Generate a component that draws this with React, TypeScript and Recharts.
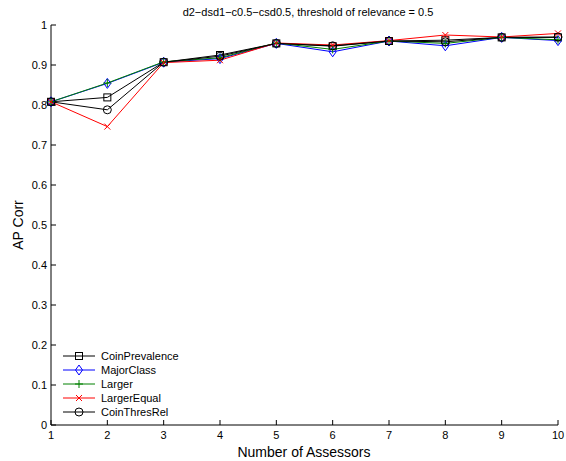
import { Line, LineChart, XAxis, YAxis } from "recharts";

const assessors = [1, 2, 3, 4, 5, 6, 7, 8, 9, 10];
const coinPrevalence = [0.808, 0.819, 0.907, 0.925, 0.954, 0.947, 0.96, 0.962, 0.969, 0.969];
const majorClass = [0.808, 0.854, 0.907, 0.916, 0.954, 0.933, 0.96, 0.948, 0.969, 0.961];
const larger = [0.808, 0.855, 0.908, 0.918, 0.955, 0.939, 0.96, 0.954, 0.969, 0.963];
const largerEqual = [0.808, 0.746, 0.906, 0.912, 0.955, 0.95, 0.961, 0.975, 0.97, 0.979];
const coinThresRel = [0.808, 0.788, 0.907, 0.922, 0.954, 0.948, 0.96, 0.958, 0.969, 0.97];

const yTicks = [0, 0.1, 0.2, 0.3, 0.4, 0.5, 0.6, 0.7, 0.8, 0.9, 1];

const series = [
  { key: "coinPrevalence", name: "CoinPrevalence", color: "#000000", shape: "square", values: coinPrevalence },
  { key: "majorClass", name: "MajorClass", color: "#0000ff", shape: "diamond", values: majorClass },
  { key: "larger", name: "Larger", color: "#008000", shape: "plus", values: larger },
  { key: "largerEqual", name: "LargerEqual", color: "#ff0000", shape: "cross", values: largerEqual },
  { key: "coinThresRel", name: "CoinThresRel", color: "#000000", shape: "circle", values: coinThresRel },
];

const data = assessors.map((x, i) => {
  const row: Record<string, number> = { x };
  series.forEach((s) => {
    row[s.key] = s.values[i];
  });
  return row;
});

const FONT = "'Liberation Sans', Arial, Helvetica, sans-serif";

function Marker({ shape, color, cx, cy }: { shape: string; color: string; cx: number; cy: number }) {
  const common = { fill: "none", stroke: color, strokeWidth: 1 };
  if (shape === "square") return <rect x={cx - 3.5} y={cy - 3.5} width={7} height={7} {...common} />;
  if (shape === "diamond")
    return <polygon points={`${cx},${cy - 5} ${cx + 3.5},${cy} ${cx},${cy + 5} ${cx - 3.5},${cy}`} {...common} />;
  if (shape === "plus")
    return <path d={`M${cx - 4},${cy}H${cx + 4}M${cx},${cy - 4}V${cy + 4}`} {...common} />;
  if (shape === "cross")
    return <path d={`M${cx - 3},${cy - 3}L${cx + 3},${cy + 3}M${cx - 3},${cy + 3}L${cx + 3},${cy - 3}`} {...common} />;
  return <circle cx={cx} cy={cy} r={4} {...common} />;
}

const bottomTick = (props: any) => (
  <g>
    <line x1={props.x} y1={props.y} x2={props.x} y2={props.y - 5} stroke="#000" />
    <text x={props.x} y={props.y + 14} textAnchor="middle" fontSize={11} fontFamily={FONT} fill="#000">
      {props.payload.value}
    </text>
  </g>
);
const topTick = (props: any) => (
  <line x1={props.x} y1={props.y} x2={props.x} y2={props.y + 5} stroke="#000" />
);
const leftTick = (props: any) => (
  <g>
    <line x1={props.x} y1={props.y} x2={props.x + 5} y2={props.y} stroke="#000" />
    <text x={props.x - 4} y={props.y + 4} textAnchor="end" fontSize={11} fontFamily={FONT} fill="#000">
      {props.payload.value}
    </text>
  </g>
);
const rightTick = (props: any) => (
  <line x1={props.x} y1={props.y} x2={props.x - 5} y2={props.y} stroke="#000" />
);

export default function App() {
  return (
    <div style={{ position: "absolute", left: 0, top: 0, width: 566, height: 461, background: "#fff", fontFamily: FONT }}>
      <LineChart width={566} height={461} data={data} margin={{ top: 25, right: 8, bottom: 11, left: 10 }}>
        <XAxis
          dataKey="x"
          type="number"
          domain={[1, 10]}
          ticks={assessors}
          height={25}
          tickSize={0}
          tickMargin={0}
          tickLine={false}
          tick={bottomTick}
          axisLine={{ stroke: "#000" }}
          interval={0}
        />
        <XAxis
          xAxisId="top"
          orientation="top"
          dataKey="x"
          type="number"
          domain={[1, 10]}
          ticks={assessors}
          height={0}
          tickSize={0}
          tickMargin={0}
          tickLine={false}
          tick={topTick}
          axisLine={{ stroke: "#000" }}
          interval={0}
        />
        <YAxis
          type="number"
          domain={[0, 1]}
          ticks={yTicks}
          width={41}
          tickSize={0}
          tickMargin={0}
          tickLine={false}
          tick={leftTick}
          axisLine={{ stroke: "#000" }}
          interval={0}
        />
        <YAxis
          yAxisId="right"
          orientation="right"
          type="number"
          domain={[0, 1]}
          ticks={yTicks}
          width={0}
          tickSize={0}
          tickMargin={0}
          tickLine={false}
          tick={rightTick}
          axisLine={{ stroke: "#000" }}
          interval={0}
        />
        {series.map((s) => (
          <Line
            key={s.key}
            dataKey={s.key}
            name={s.name}
            type="linear"
            stroke={s.color}
            strokeWidth={1}
            isAnimationActive={false}
            dot={(p: any) => <Marker key={`${s.key}-${p.index}`} shape={s.shape} color={s.color} cx={p.cx} cy={p.cy} />}
            activeDot={false}
          />
        ))}
        <text x={308} y={16} textAnchor="middle" fontSize={11} fontFamily={FONT} fill="#000">
          d2−dsd1−c0.5−csd0.5, threshold of relevance = 0.5
        </text>
        <text x={304} y={457} textAnchor="middle" fontSize={14} fontFamily={FONT} fill="#000">
          Number of Assessors
        </text>
        <text x={23} y={225} textAnchor="middle" fontSize={14} fontFamily={FONT} fill="#000" transform="rotate(-90 23 225)">
          AP Corr
        </text>
      </LineChart>
      <svg style={{ position: "absolute", left: 60, top: 348 }} width={140} height={72}>
        {series.map((s, i) => {
          const y = 8 + i * 14;
          return (
            <g key={s.key}>
              <line x1={3} y1={y} x2={35} y2={y} stroke={s.color} strokeWidth={1} />
              <Marker shape={s.shape} color={s.color} cx={19} cy={y} />
              <text x={41} y={y + 4} fontSize={11} fontFamily={FONT} fill="#000">
                {s.name}
              </text>
            </g>
          );
        })}
      </svg>
    </div>
  );
}
